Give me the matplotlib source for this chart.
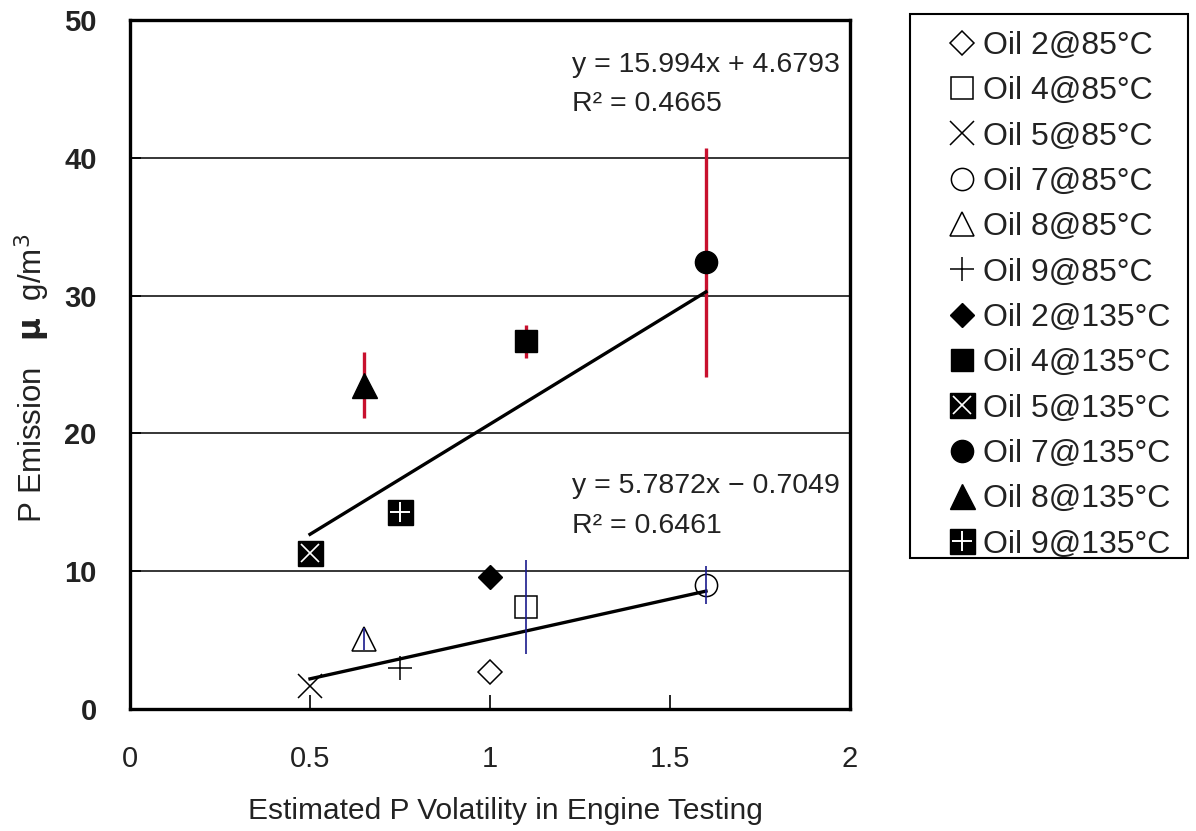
import matplotlib
matplotlib.use('Agg')
import matplotlib.pyplot as plt
from matplotlib.patches import Rectangle
from matplotlib.legend_handler import HandlerTuple

# ---------------- data ----------------
labels_85 = ['Oil 2@85°C', 'Oil 4@85°C', 'Oil 5@85°C', 'Oil 7@85°C', 'Oil 8@85°C', 'Oil 9@85°C']
labels_135 = ['Oil 2@135°C', 'Oil 4@135°C', 'Oil 5@135°C', 'Oil 7@135°C', 'Oil 8@135°C', 'Oil 9@135°C']
x_85 = [1.0, 1.1, 0.5, 1.6, 0.65, 0.75]
y_85 = [2.7, 7.4, 1.7, 9.0, 5.1, 3.0]
err_85 = [0, 3.4, 0, 1.4, 0.8, 0]
x_135 = [1.0, 1.1, 0.5, 1.6, 0.65, 0.75]
y_135 = [9.6, 26.7, 11.3, 32.4, 23.5, 14.3]
err_135 = [0, 1.2, 0, 8.3, 2.4, 0]
fit_135 = (15.994, 4.6793, 0.4665)   # slope, intercept, R^2
fit_85 = (5.7872, -0.7049, 0.6461)
fit_x = [0.5, 1.6]
x_ticks = [0, 0.5, 1, 1.5, 2]
x_ticklabels = ['0', '0.5', '1', '1.5', '2']
y_ticks = [0, 10, 20, 30, 40, 50]
y_ticklabels = ['0', '10', '20', '30', '40', '50']

plt.rcParams['font.family'] = ['Liberation Sans', 'DejaVu Sans']

W, H = 1196, 831
fig = plt.figure(figsize=(W / 100, H / 100), dpi=100)
ax = fig.add_axes([0.1087, 0.1468, 0.602, 0.8292])

RED = '#c8102e'
BLUE = '#1a1a8c'

# error bars
for xi, yi, ei in zip(x_135, y_135, err_135):
    if ei > 0:
        ax.errorbar([xi], [yi], yerr=[ei], fmt='none', ecolor=RED, elinewidth=2.4, capsize=0, zorder=2)
for xi, yi, ei in zip(x_85, y_85, err_85):
    if ei > 0:
        ax.errorbar([xi], [yi], yerr=[ei], fmt='none', ecolor=BLUE, elinewidth=1.2, capsize=0, zorder=4)

# trend lines
for (m, b, r2) in (fit_135, fit_85):
    ax.plot(fit_x, [m * fit_x[0] + b, m * fit_x[1] + b], color='black', lw=2.4, zorder=2.5)

# marker styles
open_styles = [
    dict(marker='D', ms=12.5, mfc='none', mec='black', mew=1.1),
    dict(marker='s', ms=16.5, mfc='none', mec='black', mew=1.1),
    dict(marker='x', ms=17, mec='black', mew=1.1),
    dict(marker='o', ms=16, mfc='none', mec='black', mew=1.1),
    dict(marker='^', ms=17.5, mfc='none', mec='black', mew=1.1),
    dict(marker='+', ms=17, mec='black', mew=1.1),
]
handles = []
for (xi, yi, st) in zip(x_85, y_85, open_styles):
    h, = ax.plot([xi], [yi], ls='none', zorder=3, **st)
    handles.append(h)

filled_styles = [
    dict(marker='D', ms=12.5, mfc='black', mec='black'),
    dict(marker='s', ms=16.5, mfc='black', mec='black'),
    dict(marker='s', ms=18, mfc='black', mec='black'),
    dict(marker='o', ms=16, mfc='black', mec='black'),
    dict(marker='^', ms=18, mfc='black', mec='black'),
    dict(marker='s', ms=18, mfc='black', mec='black'),
]
overlay = {2: dict(marker='x', ms=13, mec='white', mew=1.2),
           5: dict(marker='+', ms=14, mec='white', mew=1.4)}
for i, (xi, yi, st) in enumerate(zip(x_135, y_135, filled_styles)):
    h, = ax.plot([xi], [yi], ls='none', zorder=3, **st)
    if i in overlay:
        h2, = ax.plot([xi], [yi], ls='none', zorder=3.5, **overlay[i])
        handles.append((h, h2))
    else:
        handles.append(h)

# fit text
tkw = dict(fontsize=20.5, va='center', ha='left', color='#222222')
ax.text(1.229, 46.7, f'y = {fit_135[0]:.3f}x + {fit_135[1]:.4f}', **tkw)
ax.text(1.229, 43.9, f'R² = {fit_135[2]:.4f}', **tkw)
ax.text(1.229, 16.2, f'y = {fit_85[0]:.4f}x − {abs(fit_85[1]):.4f}', **tkw)
ax.text(1.229, 13.3, f'R² = {fit_85[2]:.4f}', **tkw)

# axes formatting
ax.set_xlim(0, 2)
ax.set_ylim(0, 50)
ax.set_xticks(x_ticks)
ax.set_xticklabels(x_ticklabels, fontsize=21, color='#222222')
ax.set_yticks(y_ticks)
ax.set_yticklabels(y_ticklabels, fontsize=21, fontweight='bold', color='#222222')
ax.tick_params(axis='x', direction='in', length=10, width=1.2, pad=26)
ax.tick_params(axis='y', direction='in', length=8, width=1.2, pad=24)
ax.yaxis.grid(True, color='black', lw=1.1)
ax.set_axisbelow(True)
for sp in ax.spines.values():
    sp.set_linewidth(2.4)
    sp.set_color('black')

ax.set_xlabel('Estimated P Volatility in Engine Testing', fontsize=21.5, color='#222222')
ax.xaxis.set_label_coords(0.521, -0.127)
ax.set_ylabel(r'P Emission   $\mathbf{\mu}$  g/m$^3$', fontsize=22.5, color='#222222')
ax.yaxis.set_label_coords(-0.109, 0.48)

# legend: frame drawn as a rectangle, entries placed inside
fig.patches.append(Rectangle((910 / W, 1 - 558 / H), 278 / W, 544 / H, transform=fig.transFigure,
                             fill=False, edgecolor='black', lw=1.5))
leg = fig.legend(handles, labels_85 + labels_135, loc='upper left',
                 bbox_to_anchor=(947 / W, 1 - 31 / H),
                 frameon=False, fontsize=23,
                 handlelength=0.92, handletextpad=0.2, labelspacing=0.48, borderpad=0,
                 borderaxespad=0, markerscale=1.0,
                 handler_map={tuple: HandlerTuple(ndivide=1, pad=0)})
for t in leg.get_texts():
    t.set_color('#222222')

fig.savefig('out.png', dpi=100)
